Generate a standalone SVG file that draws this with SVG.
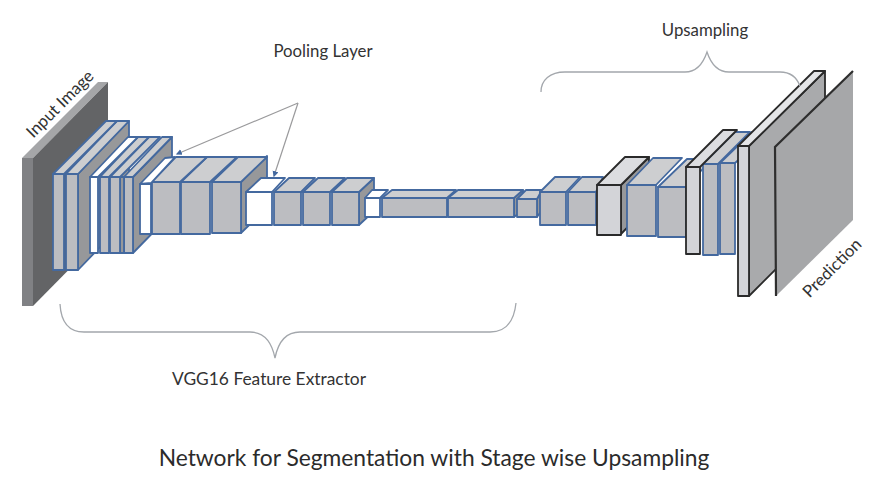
<svg xmlns="http://www.w3.org/2000/svg" width="878" height="485" viewBox="0 0 878 485">
<style>
text{font-family:"Lato","Open Sans","Liberation Sans",sans-serif;fill:#333;text-anchor:middle}
.l{font-size:16.8px}
.t{font-size:22.8px;fill:#2b2b2b}
.f{fill:#bcbdc1}.w{fill:#fff}.lt{fill:#d3d4d8}
.tp{fill:#cdced0}.tw{fill:#fff}
.r{fill:#97989a}
.f,.w,.lt,.tp,.tw,.r{stroke:#44699f;stroke-width:1.8;stroke-linejoin:round}
.k .f,.k .w,.k .lt,.k .tp,.k .tw,.k .r{stroke:#2a2a2a}
.k .tp{fill:#dcdde0}
.br{fill:none;stroke:#a3a7ac;stroke-width:1.3}
.ar{fill:none;stroke:#9a9a9c;stroke-width:1.2}
</style>
<defs><marker id="ah" markerWidth="6" markerHeight="6" refX="4" refY="2.5" orient="auto"><path d="M0 0L5 2.5L0 5z" fill="#44699f"/></marker></defs>

<g id="prediction-label"><text class="l" transform="translate(836 272) rotate(-45)">Prediction</text></g>
<g id="input-label"><text class="l" transform="translate(64 108) rotate(-45)">Input Image</text></g>
<g id="pooling-label"><text class="l" x="323" y="57">Pooling Layer</text></g>
<g id="upsampling-label"><text class="l" x="705" y="36">Upsampling</text></g>
<g id="vgg-label"><text class="l" x="269" y="385" textLength="194" lengthAdjust="spacingAndGlyphs">VGG16 Feature Extractor</text></g>
<g id="title"><text class="t" x="434" y="466">Network for Segmentation with Stage wise Upsampling</text></g>

<g id="input-image">
<polygon points="22,158 98,82 108,82 33,158" fill="#a5a6a8"/>
<polygon points="33,158 108,82 108,230 33,306" fill="#636466"/>
<rect x="22" y="158" width="11" height="148" fill="#808184"/>
</g>

<g id="block-b"><polygon class="r" points="78,174 129,121 129,217 78,270"/><polygon class="tp" points="66,174 117,121 129,121 78,174"/><rect class="f" x="66" y="174" width="12" height="96"/></g>
<g id="block-a"><polygon class="tp" points="53,174 106,121 117,121 64,174"/><rect class="f" x="53" y="174" width="11" height="96"/></g>

<g id="block-f"><polygon class="r" points="133,177 172,137 172,213 133,253"/><polygon class="tp" points="124,177 162,137 172,137 133,177"/><rect class="f" x="124" y="177" width="9" height="76"/></g>
<g id="block-e"><polygon class="r" points="120,177 124,177 124,253 120,253"/><polygon class="tp" points="110,177 149,137 160,137 120,177"/><rect class="f" x="110" y="177" width="10" height="76"/></g>
<g id="block-d"><polygon class="tp" points="100,177 138,137 149,137 109,177"/><rect class="f" x="100" y="177" width="9" height="76"/></g>
<g id="block-c"><polygon class="tw" points="90,177 128,137 138,137 98,177"/><rect class="w" x="90" y="177" width="8" height="76"/></g>

<g id="block-j"><polygon class="r" points="241,182 267,156 267,208 241,233"/><polygon class="tp" points="212,182 238,157 267,157 241,182"/><rect class="f" x="212" y="182" width="29" height="51"/></g>
<g id="block-i"><polygon class="tp" points="181,182 207,157 237,157 210,182"/><rect class="f" x="181" y="182" width="29" height="52"/></g>
<g id="block-h"><polygon class="tp" points="152,182 176,157 207,157 180,182"/><rect class="f" x="152" y="182" width="28" height="52"/></g>
<g id="block-g"><polygon class="tw" points="140,184 165,158 175,157 151,183"/><rect class="w" x="140" y="184" width="11" height="50"/></g>

<g id="block-n"><polygon class="r" points="359,192 374,178 374,211 359,225"/><polygon class="tp" points="332,192 347,178 374,178 359,192"/><rect class="f" x="332" y="192" width="27" height="33"/></g>
<g id="block-m"><polygon class="tp" points="303,192 318,178 345,178 330,192"/><rect class="f" x="303" y="192" width="27" height="33"/></g>
<g id="block-l"><polygon class="tp" points="274,192 289,178 315,178 301,192"/><rect class="f" x="274" y="192" width="27" height="33"/></g>
<g id="block-k"><polygon class="tw" points="246,192 261,178 285,178 272,192"/><rect class="w" x="246" y="192" width="26" height="33"/></g>

<g id="block-q"><polygon class="r" points="514,198 523,190 523,210 514,217"/><polygon class="tp" points="448,198 458,190 523,190 514,198"/><rect class="f" x="448" y="198" width="66" height="19"/></g>
<g id="block-r"><polygon class="r" points="537,199 542,190 542,210 537,217"/><polygon class="tp" points="517,199 526,190 542,190 537,199"/><rect class="f" x="517" y="199" width="20" height="18"/></g>
<g id="block-p"><polygon class="tp" points="382,198 392,190 456,190 447,198"/><rect class="f" x="382" y="198" width="65" height="19"/></g>
<g id="block-o"><polygon class="tw" points="365,198 372,190 388,190 380,198"/><rect class="w" x="365" y="198" width="15" height="19"/></g>

<g id="block-t"><polygon class="tp" points="568,192 582,177 603,177 596,192"/><rect class="f" x="568" y="192" width="28" height="33"/></g>
<g id="block-s"><polygon class="tp" points="540,192 555,177 580,177 566,192"/><rect class="f" x="540" y="192" width="26" height="33"/></g>

<g id="block-u" class="k"><polygon class="r" points="621,185 649,157 649,205 621,234"/><polygon class="tp" points="597,185 625,157 649,157 621,185"/><rect class="lt" x="597" y="185" width="24" height="50"/></g>
<g id="block-w"><polygon class="tp" points="658,187 687,159 712,159 686,187"/><rect class="f" x="658" y="187" width="28" height="50"/></g>
<g id="block-v"><polygon class="tp" points="627,185 653,158 682,158 656,185"/><rect class="f" x="627" y="185" width="29" height="51"/></g>

<g id="block-z"><polygon class="tp" points="720,163 752,132 770,132 735,163"/><rect class="f" x="720" y="163" width="15" height="91"/></g>
<g id="block-y"><polygon class="tp" points="703,164 735,132 750,132 718,164"/><rect class="f" x="703" y="164" width="15" height="91"/></g>
<g id="block-x" class="k"><polygon class="tp" points="686,167 723,130 737,130 700,167"/><rect class="lt" x="686" y="167" width="14" height="87"/></g>

<g id="block-aa" class="k"><polygon class="r" style="fill:#a9aaac" points="749,146 825,71 825,220 749,296"/><polygon class="tp" style="fill:#e4e5e7" points="738,146 814,71 825,71 749,146"/><rect class="lt" x="738" y="146" width="11" height="150"/></g>
<g id="prediction"><polygon points="775,147 853,71 853,220 776,296" fill="#a6a7a9"/><path d="M776 296L775 147L853 71" fill="none" stroke="#2e2e2e" stroke-width="2.2"/></g>

<g id="connectors">
<path class="ar" marker-end="url(#ah)" d="M298 103L177 154"/>
<path class="ar" marker-end="url(#ah)" d="M298 103L274 176"/>
<path class="br" d="M60 304C61 322 68 332 84 332H250C265 332 272 343 275 358C278 343 285 332 300 332H490C506 332 514 322 516 303"/>
<path class="br" d="M541 92C541 80 550 72 565 72H685C697 72 703 64 707 52C711 64 717 72 729 72H780C791 72 797 78 800 86"/>
</g>
</svg>
